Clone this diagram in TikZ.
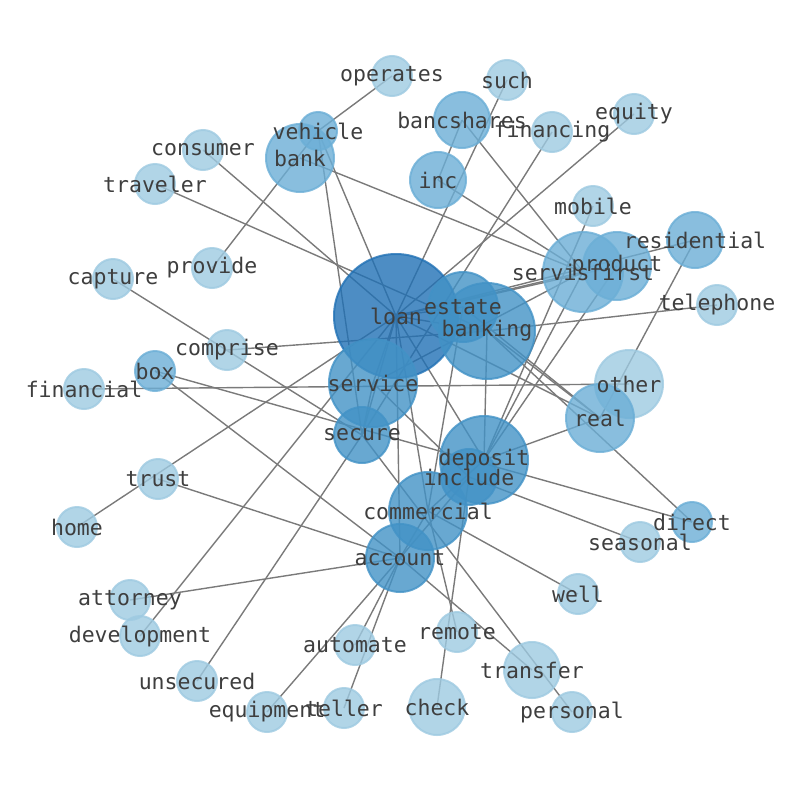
\documentclass[tikz,border=0pt]{standalone}
\usepackage{fontspec}
\setmonofont{DejaVu Sans Mono}
\usepackage{tikz}
\usetikzlibrary{backgrounds}
\definecolor{bluel}{RGB}{158,202,225}
\definecolor{bluem}{RGB}{107,174,214}
\definecolor{blued}{RGB}{66,146,198}
\definecolor{bluex}{RGB}{33,113,181}
\definecolor{wordgray}{RGB}{62,62,62}
\tikzset{
  word/.style={text=wordgray, font=\ttfamily\fontsize{21.5}{22}\selectfont, inner sep=0pt},
  kw/.style={circle, inner sep=0pt, line width=2pt, fill opacity=0.8, draw opacity=0.8},
  kwl/.style={kw, fill=bluel, draw=bluel, minimum size=40pt},
  kwm/.style={kw, fill=bluem, draw=bluem},
  kwd/.style={kw, fill=blued, draw=blued},
  kwx/.style={kw, fill=bluex, draw=bluex},
  link/.style={draw=black!52, line width=1.4pt}
}

\begin{document}
\begin{tikzpicture}[x=1pt, y=-1pt]
\useasboundingbox (0,0) rectangle (794,790);

% keyword circles
\node[kwl] (operates) at (392,76) {};
\node[kwl] (such) at (507,80) {};
\node[kwl] (equity) at (634,114) {};
\node[kwl] (financing) at (552,132) {};
\node[kwl] (consumer) at (203,150) {};
\node[kwl] (traveler) at (155,184) {};
\node[kwl] (mobile) at (593,206) {};
\node[kwl] (telephone) at (717,305) {};
\node[kwl] (provide) at (212,268) {};
\node[kwl] (capture) at (113,279) {};
\node[kwl] (comprise) at (227,350) {};
\node[kwl] (financial) at (84,389) {};
\node[kwl, minimum size=68pt] (other) at (629,384) {};
\node[kwl] (trust) at (158,479) {};
\node[kwl] (seasonal) at (640,542) {};
\node[kwl] (home) at (77,527) {};
\node[kwl] (well) at (578,594) {};
\node[kwl] (attorney) at (130,600) {};
\node[kwl] (development) at (140,636) {};
\node[kwl] (remote) at (457,632) {};
\node[kwl] (automate) at (355,645) {};
\node[kwl, minimum size=56pt] (transfer) at (532,670) {};
\node[kwl] (unsecured) at (197,681) {};
\node[kwl] (equipment) at (267,712) {};
\node[kwl] (teller) at (344,708) {};
\node[kwl, minimum size=56pt] (check) at (437,707) {};
\node[kwl] (personal) at (572,712) {};

\node[kwm, minimum size=56pt] (bancshares) at (462,120) {};
\node[kwm, minimum size=68pt] (bank) at (300,158) {};
\node[kwm, minimum size=38pt] (vehicle) at (318,131) {};
\node[kwm, minimum size=56pt] (inc) at (438,180) {};
\node[kwm, minimum size=56pt] (residential) at (695,240) {};
\node[kwm, minimum size=80pt] (servisfirst) at (583,272) {};
\node[kwm, minimum size=68pt] (product) at (617,266) {};
\node[kwm, minimum size=40pt] (box) at (155,371) {};
\node[kwm, minimum size=40pt] (direct) at (692,522) {};
\node[kwm, minimum size=68pt] (real) at (600,418) {};

\node[kwx, minimum size=124pt] (loan) at (396,316) {};
\node[kwd, minimum size=70pt] (estate) at (463,307) {};
\node[kwd, minimum size=96pt] (banking) at (487,331) {};
\node[kwd, minimum size=88pt] (service) at (373,383) {};
\node[kwd, minimum size=56pt] (secure) at (362,435) {};
\node[kwd, minimum size=88pt] (deposit) at (484,460) {};
\node[kwd, minimum size=56pt] (include) at (469,477) {};
\node[kwd, minimum size=78pt] (commercial) at (428,511) {};
\node[kwd, minimum size=68pt] (account) at (400,558) {};

% links, behind the circles
\begin{pgfonlayer}{background}
\path[link] (operates.center) -- (vehicle.center);
\path[link] (provide.center) -- (vehicle.center);
\path[link] (vehicle.center) -- (loan.center);
\path[link] (vehicle.center) -- (secure.center);
\path[link] (bank.center) -- (servisfirst.center);
\path[link] (consumer.center) -- (loan.center);
\path[link] (traveler.center) -- (banking.center);
\path[link] (capture.center) -- (secure.center);
\path[link] (comprise.center) -- (banking.center);
\path[link] (financial.center) -- (other.center);
\path[link] (box.center) -- (direct.center);
\path[link] (box.center) -- (account.center);
\path[link] (home.center) -- (loan.center);
\path[link] (trust.center) -- (account.center);
\path[link] (attorney.center) -- (account.center);
\path[link] (development.center) -- (loan.center);
\path[link] (unsecured.center) -- (secure.center);
\path[link] (equipment.center) -- (account.center);
\path[link] (teller.center) -- (account.center);
\path[link] (automate.center) -- (account.center);
\path[link] (remote.center) -- (commercial.center);
\path[link] (check.center) -- (include.center);
\path[link] (account.center) -- (transfer.center);
\path[link] (secure.center) -- (personal.center);
\path[link] (well.center) -- (commercial.center);
\path[link] (seasonal.center) -- (include.center);
\path[link] (direct.center) -- (banking.center);
\path[link] (residential.center) -- (real.center);
\path[link] (residential.center) -- (loan.center);
\path[link] (telephone.center) -- (banking.center);
\path[link] (mobile.center) -- (deposit.center);
\path[link] (product.center) -- (deposit.center);
\path[link] (servisfirst.center) -- (deposit.center);
\path[link] (deposit.center) -- (real.center);
\path[link] (equity.center) -- (loan.center);
\path[link] (financing.center) -- (secure.center);
\path[link] (such.center) -- (loan.center);
\path[link] (bancshares.center) -- (inc.center);
\path[link] (bancshares.center) -- (servisfirst.center);
\path[link] (inc.center) -- (servisfirst.center);
\path[link] (loan.center) -- (estate.center);
\path[link] (loan.center) -- (banking.center);
\path[link] (loan.center) -- (service.center);
\path[link] (loan.center) -- (secure.center);
\path[link] (loan.center) -- (servisfirst.center);
\path[link] (loan.center) -- (product.center);
\path[link] (loan.center) -- (real.center);
\path[link] (loan.center) -- (deposit.center);
\path[link] (loan.center) -- (commercial.center);
\path[link] (loan.center) -- (account.center);
\path[link] (service.center) -- (secure.center);
\path[link] (service.center) -- (servisfirst.center);
\path[link] (service.center) -- (include.center);
\path[link] (banking.center) -- (deposit.center);
\path[link] (banking.center) -- (real.center);
\path[link] (estate.center) -- (commercial.center);
\path[link] (estate.center) -- (real.center);
\path[link] (commercial.center) -- (deposit.center);
\path[link] (commercial.center) -- (account.center);
\path[link] (account.center) -- (include.center);
\end{pgfonlayer}

% words on top
\foreach \w in {operates,such,equity,financing,consumer,traveler,mobile,
  telephone,provide,capture,comprise,financial,other,trust,seasonal,home,
  well,attorney,development,remote,automate,transfer,unsecured,equipment,
  teller,check,personal,bancshares,bank,vehicle,inc,residential,servisfirst,
  product,box,direct,real,loan,estate,banking,service,secure,deposit,
  include,commercial,account}
  \node[word] (\w-t) at (\w) {\w};
\end{tikzpicture}
\end{document}
